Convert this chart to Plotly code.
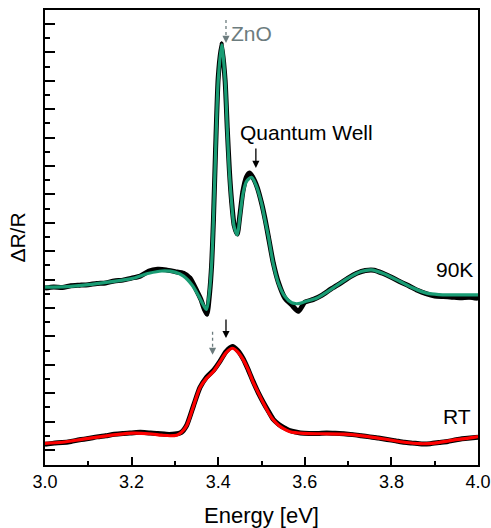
import plotly.graph_objects as go

# ---- 90 K spectrum: measured points and fitted curve ----
energy_90k_meas = [3.00, 3.02, 3.04, 3.06, 3.08, 3.10, 3.12, 3.14, 3.16, 3.18, 3.20, 3.22, 3.24,
                   3.26, 3.28, 3.30, 3.32, 3.335, 3.35, 3.36, 3.368, 3.374, 3.380, 3.385, 3.389,
                   3.394, 3.400, 3.408, 3.416, 3.421, 3.426, 3.431, 3.437, 3.444, 3.450, 3.457,
                   3.465, 3.472, 3.480, 3.490, 3.500, 3.508, 3.516, 3.527, 3.539, 3.554, 3.570,
                   3.585, 3.600, 3.62, 3.64, 3.66, 3.68, 3.70, 3.72, 3.74, 3.76, 3.78, 3.80,
                   3.82, 3.84, 3.86, 3.88, 3.90, 3.92, 3.94, 3.96, 3.98, 4.00]
dr_90k_meas = [5.70, 5.74, 5.72, 5.78, 5.80, 5.82, 5.86, 5.88, 5.95, 5.98, 6.05, 6.12, 6.30,
               6.36, 6.34, 6.28, 6.22, 6.05, 5.62, 5.30, 4.95, 4.78, 5.50, 6.55, 8.10,
               10.6, 13.1, 14.3, 13.0, 11.3, 9.8, 8.75, 7.9, 7.6, 8.25, 9.1,
               9.6, 9.75, 9.6, 9.25, 8.7, 8.15, 7.5, 6.6, 5.9, 5.35, 5.1,
               4.88, 5.2, 5.30, 5.45, 5.66, 5.85, 6.05, 6.22, 6.32, 6.33, 6.22, 6.08,
               5.92, 5.78, 5.62, 5.50, 5.42, 5.40, 5.38, 5.36, 5.38, 5.34]

energy_90k_fit = [3.00, 3.05, 3.10, 3.15, 3.20, 3.24, 3.27, 3.30, 3.32, 3.34, 3.355, 3.365,
                  3.373, 3.380, 3.385, 3.389, 3.394, 3.400, 3.408, 3.416, 3.421, 3.426, 3.431,
                  3.437, 3.444, 3.450, 3.457, 3.465, 3.477, 3.488, 3.500, 3.508, 3.516, 3.527,
                  3.539, 3.554, 3.570, 3.585, 3.600, 3.627, 3.650, 3.673, 3.70, 3.73, 3.754,
                  3.78, 3.82, 3.85, 3.881, 3.91, 3.935, 3.97, 4.00]
dr_90k_fit = [5.73, 5.75, 5.82, 5.92, 6.03, 6.22, 6.30, 6.26, 6.12, 5.80, 5.42, 5.12,
              4.95, 5.60, 6.60, 8.10, 10.5, 13.0, 14.26, 13.0, 11.27, 9.7, 8.7,
              7.85, 7.57, 8.2, 9.0, 9.45, 9.6, 9.3, 8.69, 8.1, 7.51, 6.57,
              5.87, 5.40, 5.18, 5.15, 5.22, 5.34, 5.55, 5.78, 6.05, 6.28, 6.34,
              6.22, 5.93, 5.70, 5.52, 5.47, 5.46, 5.46, 5.46]

# ---- room-temperature spectrum: measured points and fitted curve ----
energy_rt_meas = [3.00, 3.02, 3.04, 3.06, 3.08, 3.10, 3.12, 3.14, 3.16, 3.18, 3.20, 3.22, 3.24,
                  3.26, 3.28, 3.30, 3.315, 3.327, 3.343, 3.358, 3.373, 3.389, 3.404, 3.418,
                  3.433, 3.445, 3.458, 3.470, 3.481, 3.493, 3.504, 3.516, 3.527, 3.540, 3.555,
                  3.57, 3.59, 3.61, 3.63, 3.65, 3.67, 3.69, 3.71, 3.73, 3.75, 3.77, 3.79,
                  3.81, 3.83, 3.85, 3.87, 3.89, 3.91, 3.93, 3.95, 3.97, 4.00]
dr_rt_meas = [0.20, 0.24, 0.26, 0.30, 0.36, 0.40, 0.46, 0.50, 0.55, 0.58, 0.60, 0.62, 0.60,
              0.58, 0.55, 0.56, 0.62, 0.86, 1.56, 2.20, 2.56, 2.80, 3.12, 3.46,
              3.64, 3.50, 3.20, 2.80, 2.40, 2.00, 1.68, 1.36, 1.08, 0.90, 0.76,
              0.66, 0.60, 0.58, 0.58, 0.60, 0.59, 0.57, 0.54, 0.50, 0.46, 0.42, 0.37,
              0.32, 0.27, 0.24, 0.21, 0.22, 0.26, 0.30, 0.36, 0.40, 0.45]

energy_rt_fit = [3.00, 3.04, 3.088, 3.13, 3.17, 3.204, 3.24, 3.27, 3.289, 3.304, 3.315, 3.327,
                 3.343, 3.358, 3.373, 3.389, 3.404, 3.418, 3.433, 3.445, 3.458, 3.470, 3.481,
                 3.493, 3.504, 3.516, 3.527, 3.540, 3.55, 3.566, 3.597, 3.64, 3.689, 3.743,
                 3.797, 3.83, 3.866, 3.90, 3.935, 3.97, 4.00]
dr_rt_fit = [0.23, 0.27, 0.38, 0.47, 0.55, 0.59, 0.57, 0.52, 0.50, 0.52, 0.62, 0.85,
             1.55, 2.20, 2.52, 2.76, 3.10, 3.42, 3.58, 3.45, 3.17, 2.80, 2.38,
             2.00, 1.66, 1.32, 1.06, 0.86, 0.76, 0.64, 0.58, 0.57, 0.56, 0.48,
             0.35, 0.27, 0.22, 0.24, 0.33, 0.40, 0.47]

# ---- annotation anchors (energy, tip, tail) ----
zno_arrow = (3.418, 14.33, 15.21)
qw_arrow = (3.487, 9.93, 10.67)
rt_qw_arrow = (3.418, 3.94, 4.65)
rt_zno_arrow = (3.387, 3.35, 4.23)

x_ticks = [3.0, 3.2, 3.4, 3.6, 3.8, 4.0]

GREEN = "#199c74"
RED = "#ff0000"
GREY = "#6c7c7e"
FONT = "Arial, Liberation Sans, sans-serif"

fig = go.Figure()

def add_measured(x, y):
    fig.add_trace(go.Scatter(
        x=x, y=y, mode="lines+markers",
        line=dict(color="black", width=5, shape="spline", smoothing=0.6),
        marker=dict(color="black", size=4),
        showlegend=False, hoverinfo="skip"))

def add_fit(x, y, color):
    fig.add_trace(go.Scatter(
        x=x, y=y, mode="lines",
        line=dict(color=color, width=3.2, shape="spline", smoothing=0.8),
        showlegend=False))

add_measured(energy_90k_meas, dr_90k_meas)
add_fit(energy_90k_fit, dr_90k_fit, GREEN)
add_measured(energy_rt_meas, dr_rt_meas)
add_fit(energy_rt_fit, dr_rt_fit, RED)

annotations = []
shapes = []

def solid_arrow(x, tip, tail, color):
    annotations.append(dict(x=x, y=tip, ax=x, ay=tail, xref="x", yref="y",
                            axref="x", ayref="y", text="", showarrow=True,
                            arrowhead=2, arrowsize=1.1, arrowwidth=1.3, arrowcolor=color))

def dashed_arrow(x, tip, tail, color):
    head = tip + 0.28
    shapes.append(dict(type="line", x0=x, x1=x, y0=head, y1=tail, xref="x", yref="y",
                       line=dict(color=color, width=1.3, dash="dot")))
    annotations.append(dict(x=x, y=tip, ax=x, ay=head, xref="x", yref="y",
                            axref="x", ayref="y", text="", showarrow=True,
                            arrowhead=2, arrowsize=1.1, arrowwidth=1.3, arrowcolor=color))

dashed_arrow(*zno_arrow, GREY)
solid_arrow(*qw_arrow, "black")
solid_arrow(*rt_qw_arrow, "black")
dashed_arrow(*rt_zno_arrow, GREY)

def label(text, x, y, xanchor, color="black"):
    annotations.append(dict(x=x, y=y, text=text, showarrow=False, xref="x", yref="y",
                            xanchor=xanchor, yanchor="middle",
                            font=dict(family=FONT, size=21, color=color)))

label("ZnO", 3.426, 14.68, "left", GREY)
label("Quantum Well", 3.603, 11.16, "center")
label("90K", 3.993, 6.36, "right")
label("RT", 3.988, 1.17, "right")

fig.update_layout(
    width=491, height=528,
    margin=dict(l=45, r=13, t=10, b=63),
    paper_bgcolor="white", plot_bgcolor="white",
    font=dict(family=FONT, color="black"),
    annotations=annotations, shapes=shapes,
)

fig.update_xaxes(
    range=[3.0, 4.0], tickvals=x_ticks, ticktext=[f"{v:.1f}" for v in x_ticks],
    ticks="inside", ticklen=8, tickwidth=1.5, tickcolor="black",
    minor=dict(dtick=0.1, ticks="inside", ticklen=4, tickwidth=1.5, tickcolor="black"),
    showline=True, linewidth=1.5, linecolor="black", mirror=True,
    showgrid=False, zeroline=False, automargin=False,
    tickfont=dict(family=FONT, size=18),
    title=dict(text="Energy [eV]", font=dict(family=FONT, size=22), standoff=16),
)

fig.update_yaxes(
    range=[-0.53, 15.49], dtick=1, tick0=0, showticklabels=False,
    ticks="inside", ticklen=10, tickwidth=1.5, tickcolor="black",
    minor=dict(dtick=0.5, ticks="inside", ticklen=5, tickwidth=1.5, tickcolor="black"),
    showline=True, linewidth=1.5, linecolor="black", mirror=True,
    showgrid=False, zeroline=False, automargin=False,
    title=dict(text="ΔR/R", font=dict(family=FONT, size=21), standoff=12),
)

fig.write_html("out.html")
